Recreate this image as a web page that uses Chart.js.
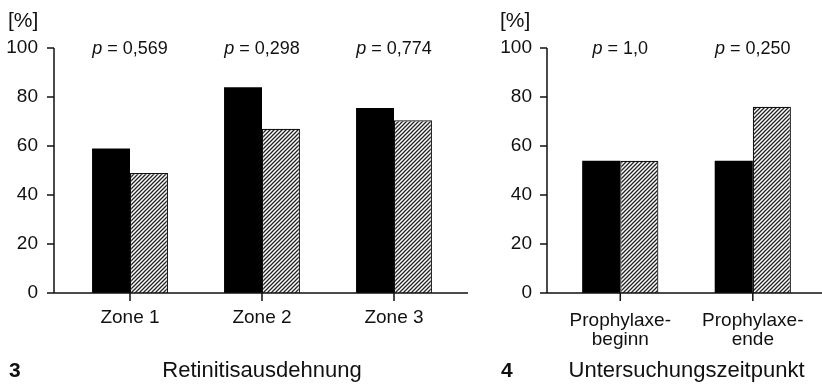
<!DOCTYPE html>
<html>
<head>
<meta charset="utf-8">
<script src="https://cdn.jsdelivr.net/npm/chart.js@4.4.1/dist/chart.umd.min.js"></script>
<style>
    body { margin: 0; background: #fff; }
    .panel { position: absolute; top: 0; }
</style>
</head>
<body>
<div class="panel" style="left:0"><canvas id="zoneChart" width="480" height="387"></canvas></div>
<div class="panel" style="left:480px"><canvas id="timeChart" width="342" height="387"></canvas></div>
<script>
// Abb. 3: Retinitisausdehnung
const zoneLabels = ['Zone 1', 'Zone 2', 'Zone 3'];
const zoneBlack = [59, 84, 75.5];
const zoneHatched = [49, 67, 70.5];
const zonePValues = ['0,569', '0,298', '0,774'];

// Abb. 4: Untersuchungszeitpunkt
const timeLabels = [['Prophylaxe-', 'beginn'], ['Prophylaxe-', 'ende']];
const timeBlack = [54, 54];
const timeHatched = [54, 76];
const timePValues = ['1,0', '0,250'];

const yMin = 0, yMax = 100, yStep = 20;
const FONT = "'Liberation Sans', Arial, Helvetica, sans-serif";
const INK = '#111';

function makeHatch(canvas) {
    const tile = document.createElement('canvas');
    tile.width = 4;
    tile.height = 4;
    const g = tile.getContext('2d');
    g.fillStyle = '#fff';
    g.fillRect(0, 0, 4, 4);
    g.strokeStyle = '#222';
    g.lineWidth = 1.3;
    g.beginPath();
    g.moveTo(-1, 5); g.lineTo(5, -1);
    g.moveTo(-1, 1); g.lineTo(1, -1);
    g.moveTo(3, 5); g.lineTo(5, 3);
    g.stroke();
    return canvas.getContext('2d').createPattern(tile, 'repeat');
}

// Achsen, Beschriftungen und p-Werte selbst zeichnen
const axesPlugin = {
    id: 'axes',
    afterDraw(chart, args, opts) {
        const { ctx, chartArea, scales: { x, y } } = chart;
        const ax = chartArea.left - opts.gap;
        const y0 = y.getPixelForValue(yMin);
        const yTop = y.getPixelForValue(yMax);

        ctx.save();
        ctx.strokeStyle = INK;
        ctx.lineWidth = 1.5;
        ctx.beginPath();
        ctx.moveTo(ax, yTop);
        ctx.lineTo(ax, y0);
        ctx.lineTo(opts.xEnd, y0);
        y.ticks.forEach(t => {
            const py = y.getPixelForValue(t.value);
            ctx.moveTo(ax - 7, py);
            ctx.lineTo(ax, py);
        });
        x.ticks.forEach((t, i) => {
            const px = x.getPixelForValue(i);
            ctx.moveTo(px, y0);
            ctx.lineTo(px, y0 + 8);
        });
        ctx.stroke();

        ctx.fillStyle = INK;
        ctx.textBaseline = 'middle';
        ctx.textAlign = 'left';
        ctx.font = `21px ${FONT}`;
        ctx.fillText('[%]', opts.unitX, 21);

        opts.pValues.forEach((v, i) => {
            const cx = x.getPixelForValue(i);
            const rest = ' = ' + v;
            ctx.font = `italic 18px ${FONT}`;
            const wp = ctx.measureText('p').width;
            ctx.font = `18px ${FONT}`;
            const wr = ctx.measureText(rest).width;
            const sx = cx - (wp + wr) / 2;
            ctx.font = `italic 18px ${FONT}`;
            ctx.fillText('p', sx, yTop + 1);
            ctx.font = `18px ${FONT}`;
            ctx.fillText(rest, sx + wp, yTop + 1);
        });

        ctx.font = `bold 21px ${FONT}`;
        ctx.fillText(opts.figure, opts.unitX + 1, 371);
        ctx.restore();
    }
};

function buildChart(id, labels, black, hatched, cfg) {
    const canvas = document.getElementById(id);
    return new Chart(canvas, {
        type: 'bar',
        data: {
            labels,
            datasets: [
                {
                    data: black,
                    backgroundColor: '#000',
                    borderWidth: 0,
                    categoryPercentage: 0.575,
                    barPercentage: 1
                },
                {
                    data: hatched,
                    backgroundColor: makeHatch(canvas),
                    borderColor: INK,
                    borderWidth: 1.2,
                    categoryPercentage: 0.575,
                    barPercentage: 1
                }
            ]
        },
        options: {
            responsive: false,
            animation: false,
            layout: { padding: { top: 48, left: 0, right: cfg.padRight, bottom: 0 } },
            plugins: {
                legend: { display: false },
                tooltip: { enabled: false },
                axes: {
                    gap: cfg.gap,
                    xEnd: cfg.xEnd,
                    unitX: cfg.unitX,
                    pValues: cfg.pValues,
                    figure: cfg.figure
                }
            },
            scales: {
                x: {
                    grid: { display: false, drawTicks: false },
                    border: { display: false },
                    ticks: {
                        color: INK,
                        padding: cfg.labelPad,
                        maxRotation: 0,
                        autoSkip: false,
                        font: { family: FONT, size: 19, lineHeight: cfg.lineHeight }
                    },
                    title: {
                        display: true,
                        text: cfg.title,
                        color: INK,
                        font: { family: FONT, size: 22, lineHeight: 1.2 },
                        padding: { top: 0, bottom: 3 }
                    },
                    afterFit: s => { s.height = 94; }
                },
                y: {
                    min: yMin,
                    max: yMax,
                    grid: { display: false, drawTicks: false },
                    border: { display: false },
                    ticks: {
                        stepSize: yStep,
                        color: INK,
                        padding: cfg.tickPad,
                        font: { family: FONT, size: 19 }
                    },
                    afterFit: s => { s.width = cfg.yWidth; }
                }
            }
        },
        plugins: [axesPlugin]
    });
}

buildChart('zoneChart', zoneLabels, zoneBlack, zoneHatched, {
    padRight: 20, yWidth: 64, tickPad: 26, gap: 10, xEnd: 468,
    unitX: 8, labelPad: 13, lineHeight: 1.2,
    pValues: zonePValues, figure: '3', title: 'Retinitisausdehnung'
});

buildChart('timeChart', timeLabels, timeBlack, timeHatched, {
    padRight: 2, yWidth: 74, tickPad: 22, gap: 7, xEnd: 342,
    unitX: 20, labelPad: 18, lineHeight: 1.0,
    pValues: timePValues, figure: '4', title: 'Untersuchungszeitpunkt'
});
</script>
</body>
</html>
